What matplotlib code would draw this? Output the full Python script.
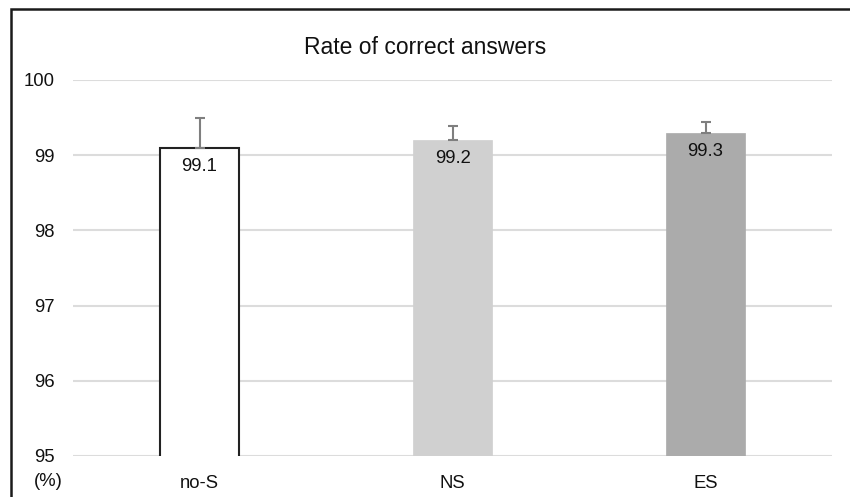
import matplotlib
matplotlib.use("Agg")
import matplotlib.pyplot as plt
from matplotlib.patches import Rectangle

categories = ["no-S", "NS", "ES"]
values = [99.1, 99.2, 99.3]
err_upper = [0.39, 0.19, 0.14]
yticks = [95, 96, 97, 98, 99, 100]

plt.rcParams['font.family'] = ['Liberation Sans', 'DejaVu Sans']

W, H = 850, 497
fig = plt.figure(figsize=(W/100, H/100), dpi=100)
ax = fig.add_axes([73/W, 1-456/H, (832-73)/W, (456-80)/H])

colors = ["white", "#d0d0d0", "#ababab"]
edges = ["#222222", "#d0d0d0", "#ababab"]
lws = [1.5, 0.5, 0.5]
x = list(range(len(categories)))
bars = ax.bar(x, values, width=0.31, color=colors, edgecolor=edges, linewidth=lws, zorder=3)
ax.errorbar(x, values, yerr=[[0]*3, err_upper], fmt='none', ecolor='#7f7f7f',
            elinewidth=1.5, capsize=3.5, capthick=1.5, zorder=4)
for xi, v in zip(x, values):
    ax.text(xi, v - 0.25, f"{v:.1f}", ha='center', va='center', fontsize=13.3, color='#111111', zorder=5)

ax.set_xlim(-0.5, 2.5)
ax.set_ylim(95, 100)
ax.set_yticks(yticks)
ax.set_yticklabels([str(t) for t in yticks])
ax.set_xticks(x)
ax.set_xticklabels(categories)
ax.tick_params(axis='both', length=0, labelsize=13.3, colors='#111111')
ax.tick_params(axis='y', pad=13)
ax.tick_params(axis='x', pad=14)
for s in ax.spines.values():
    s.set_visible(False)
ax.yaxis.grid(True, color='#dcdcdc', linewidth=1.5, zorder=0)
ax.set_axisbelow(True)

fig.text(34/W, 1-482/H, "(%)", ha='left', va='center', fontsize=13.3, color='#111111')
fig.text(425/W, 1-47/H, "Rate of correct answers", ha='center', va='center', fontsize=16.5, color='#111111')

fig.add_artist(Rectangle((11/W, -0.1), 1.0, 1.1 - 9/H + 0.0, transform=fig.transFigure,
                         fill=False, edgecolor='#1a1a1a', linewidth=1.8))
fig.savefig("out.png", dpi=100)
